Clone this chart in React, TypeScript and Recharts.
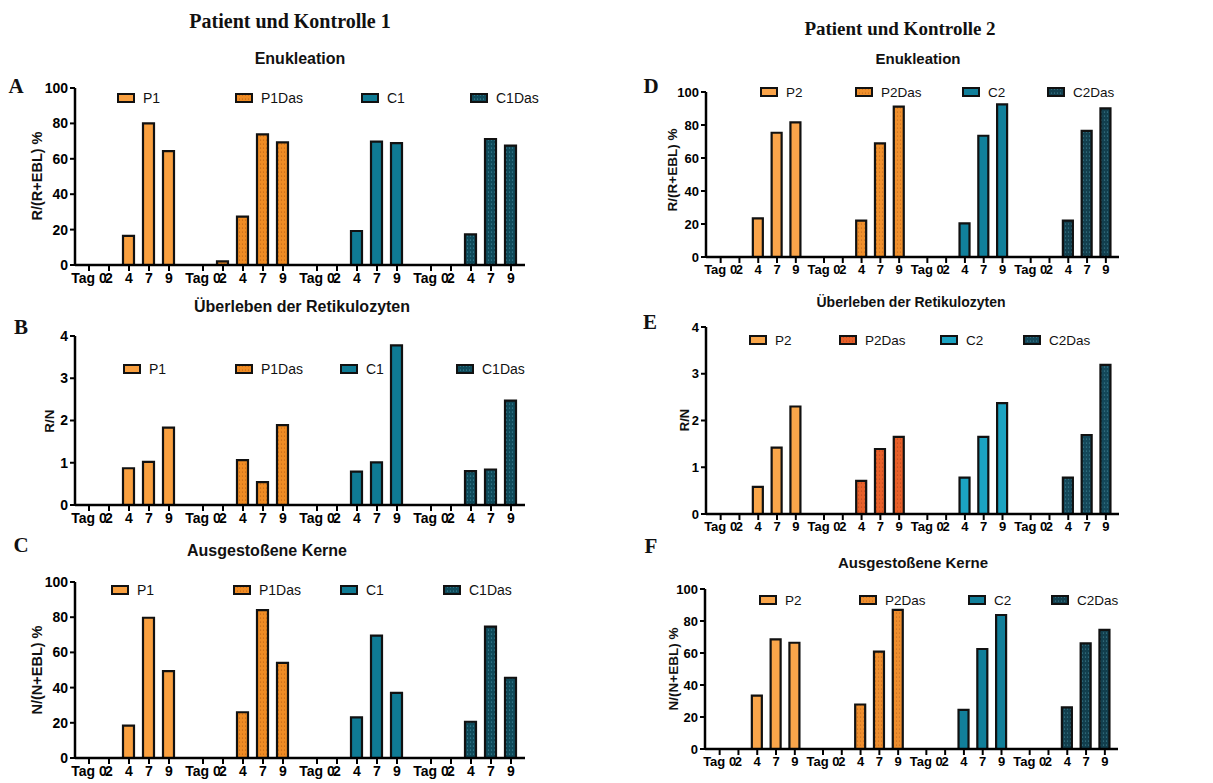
import React from 'react';
import { BarChart, Bar, XAxis, YAxis, Cell } from 'recharts';

// ---------- data ----------
const DAYS = ['Tag 0', '2', '4', '7', '9'];
const SERIES_1 = ['P1', 'P1Das', 'C1', 'C1Das'];
const SERIES_2 = ['P2', 'P2Das', 'C2', 'C2Das'];
const PCT_TICKS = [0, 20, 40, 60, 80, 100];
const RN_TICKS = [0, 1, 2, 3, 4];

// A – Enukleation (Patient/Kontrolle 1)
const A_P1 = [0, 0, 16.5, 80, 64.3];
const A_P1Das = [0, 2, 27.3, 73.8, 69.3];
const A_C1 = [0, 0, 19.2, 69.7, 68.8];
const A_C1Das = [0, 0, 17.3, 71.2, 67.4];
// B – Überleben der Retikulozyten
const B_P1 = [0, 0, 0.87, 1.02, 1.83];
const B_P1Das = [0, 0, 1.06, 0.54, 1.89];
const B_C1 = [0, 0, 0.79, 1.01, 3.78];
const B_C1Das = [0, 0, 0.8, 0.84, 2.47];
// C – Ausgestoßene Kerne
const C_P1 = [0, 0, 18.4, 79.7, 49.4];
const C_P1Das = [0, 0, 26, 84, 54];
const C_C1 = [0, 0, 23.1, 69.5, 37];
const C_C1Das = [0, 0, 20.6, 74.6, 45.6];
// D – Enukleation (Patient/Kontrolle 2)
const D_P2 = [0, 0, 23.4, 75.3, 81.6];
const D_P2Das = [0, 0, 22, 68.9, 91.1];
const D_C2 = [0, 0, 20.4, 73.5, 92.5];
const D_C2Das = [0, 0, 22, 76.4, 90.1];
// E – Überleben der Retikulozyten
const E_P2 = [0, 0, 0.58, 1.42, 2.3];
const E_P2Das = [0, 0, 0.71, 1.39, 1.65];
const E_C2 = [0, 0, 0.78, 1.65, 2.37];
const E_C2Das = [0, 0, 0.78, 1.69, 3.19];
// F – Ausgestoßene Kerne
const F_P2 = [0, 0, 33.3, 68.5, 66.4];
const F_P2Das = [0, 0, 27.8, 60.8, 86.9];
const F_C2 = [0, 0, 24.4, 62.5, 83.75];
const F_C2Das = [0, 0, 26, 66, 74.4];

// ---------- styling ----------
const SANS = '"Liberation Sans", Arial, sans-serif';
const NARROW = '"Liberation Sans Narrow", "Liberation Sans", Arial, sans-serif';
const SERIF = '"Liberation Serif", "Times New Roman", serif';

type Row = { x: number; v: number; s: number; label: string };

function buildRows(values: number[][], stride: number): Row[] {
  const rows: Row[] = [];
  values.forEach((vals, g) =>
    vals.forEach((v, i) => rows.push({ x: +(g * stride + i).toFixed(3), v, s: g, label: DAYS[i] }))
  );
  return rows;
}

type PanelCfg = {
  id: string;
  series: string[];
  values: number[][];
  stride: number;
  xDomain: [number, number];
  yDomain: [number, number];
  yTicks: number[];
  plotLeft: number;
  plotRight: number;
  plotTop: number;
  plotBottom: number;
  colors: string[];
  dots: string[];
  barSize: number;
  legendY: number;
  legendX: number[];
  legendFont: number;
  tickFont: number;
};

const Panel: React.FC<{ cfg: PanelCfg }> = ({ cfg }) => {
  const rows = buildRows(cfg.values, cfg.stride);
  const ticks = rows.map((r) => r.x);
  const labelOf: Record<string, string> = {};
  rows.forEach((r) => (labelOf[String(r.x)] = r.label));
  const chartLeft = cfg.plotLeft - 50;
  const chartTop = cfg.plotTop - 10;
  const width = cfg.plotRight - cfg.plotLeft + 60;
  const height = cfg.plotBottom - cfg.plotTop + 10 + 30;
  const fillOf = (g: number) => (g % 2 === 1 ? `url(#dots-${cfg.id}-${g})` : cfg.colors[g]);
  return (
    <>
      <div style={{ position: 'absolute', left: chartLeft, top: chartTop }}>
        <BarChart
          width={width}
          height={height}
          data={rows}
          margin={{ left: 10, right: 10, top: 10, bottom: 0 }}
        >
          <defs>
            {cfg.colors.map((c, g) =>
              g % 2 === 1 ? (
                <pattern
                  key={g}
                  id={`dots-${cfg.id}-${g}`}
                  width={3}
                  height={4}
                  patternUnits="userSpaceOnUse"
                >
                  <rect width={3} height={4} fill={c} />
                  <circle cx={1.5} cy={2} r={0.6} fill={cfg.dots[g]} />
                </pattern>
              ) : null
            )}
          </defs>
          <XAxis
            dataKey="x"
            type="number"
            domain={cfg.xDomain}
            allowDataOverflow
            ticks={ticks}
            interval={0}
            tickFormatter={(v: number) => labelOf[String(v)] ?? ''}
            axisLine={{ stroke: '#000', strokeWidth: 2.5 }}
            tickLine={{ stroke: '#000', strokeWidth: 2 }}
            tickSize={6}
            tick={{ fill: '#000', fontSize: cfg.tickFont, fontWeight: 700, fontFamily: NARROW }}
            height={30}
          />
          <YAxis
            type="number"
            domain={cfg.yDomain}
            ticks={cfg.yTicks}
            interval={0}
            width={40}
            axisLine={{ stroke: '#000', strokeWidth: 2.5 }}
            tickLine={{ stroke: '#000', strokeWidth: 2 }}
            tickSize={5}
            tick={{ fill: '#000', fontSize: cfg.tickFont, fontWeight: 700, fontFamily: NARROW }}
          />
          <Bar
            dataKey="v"
            barSize={cfg.barSize}
            stroke="#111"
            strokeWidth={2.2}
            isAnimationActive={false}
          >
            {rows.map((r, i) => (
              <Cell key={i} fill={fillOf(r.s)} />
            ))}
          </Bar>
        </BarChart>
      </div>
      {cfg.series.map((name, g) => (
        <div
          key={name}
          style={{
            position: 'absolute',
            left: cfg.legendX[g],
            top: cfg.legendY - 9,
            height: 18,
            display: 'flex',
            alignItems: 'center',
            fontFamily: SANS,
            fontSize: cfg.legendFont,
            color: '#111',
            whiteSpace: 'nowrap',
          }}
        >
          <svg width={18} height={10} style={{ marginRight: 8 }}>
            <rect x={1} y={1} width={16} height={8} fill={fillOf(g)} stroke="#111" strokeWidth={2} />
          </svg>
          {name}
        </div>
      ))}
    </>
  );
};

const abs = (left: number, top: number, extra: React.CSSProperties = {}): React.CSSProperties => ({
  position: 'absolute',
  left,
  top,
  whiteSpace: 'nowrap',
  ...extra,
});

const Centered: React.FC<{ x: number; y: number; style: React.CSSProperties; children: React.ReactNode }> = ({
  x,
  y,
  style,
  children,
}) => (
  <div style={abs(x, y, { transform: 'translate(-50%, -50%)', ...style })}>{children}</div>
);

const YLabel: React.FC<{ x: number; y: number; text: string; size: number }> = ({ x, y, text, size }) => (
  <div
    style={abs(x, y, {
      transform: 'translate(-50%, -50%) rotate(-90deg)',
      fontFamily: SANS,
      fontWeight: 700,
      fontSize: size,
      color: '#111',
    })}
  >
    {text}
  </div>
);

const LEFT_COLORS = ['#F9A040', '#F08C24', '#0F7B94', '#0F4A5A'];
const LEFT_DOTS = ['', '#B45A10', '', '#4C9AAD'];

const panels: PanelCfg[] = [
  {
    id: 'A', series: SERIES_1, values: [A_P1, A_P1Das, A_C1, A_C1Das], stride: 5.7,
    xDomain: [-0.7, 21.8], yDomain: [0, 100], yTicks: PCT_TICKS,
    plotLeft: 75, plotRight: 525, plotTop: 88, plotBottom: 265,
    colors: LEFT_COLORS, dots: LEFT_DOTS, barSize: 11,
    legendY: 98, legendX: [117, 235, 361, 470], legendFont: 14, tickFont: 14,
  },
  {
    id: 'B', series: SERIES_1, values: [B_P1, B_P1Das, B_C1, B_C1Das], stride: 5.7,
    xDomain: [-0.7, 21.8], yDomain: [0, 4], yTicks: RN_TICKS,
    plotLeft: 75, plotRight: 525, plotTop: 336, plotBottom: 505,
    colors: LEFT_COLORS, dots: LEFT_DOTS, barSize: 11,
    legendY: 369, legendX: [123, 235, 340, 456], legendFont: 14, tickFont: 14,
  },
  {
    id: 'C', series: SERIES_1, values: [C_P1, C_P1Das, C_C1, C_C1Das], stride: 5.7,
    xDomain: [-0.7, 21.8], yDomain: [0, 100], yTicks: PCT_TICKS,
    plotLeft: 75, plotRight: 525, plotTop: 582, plotBottom: 758,
    colors: LEFT_COLORS, dots: LEFT_DOTS, barSize: 11,
    legendY: 590, legendX: [111, 233, 340, 443], legendFont: 14, tickFont: 14,
  },
  {
    id: 'D', series: SERIES_2, values: [D_P2, D_P2Das, D_C2, D_C2Das], stride: 5.5,
    xDomain: [-0.78, 21.2], yDomain: [0, 100], yTicks: PCT_TICKS,
    plotLeft: 706, plotRight: 1119, plotTop: 92, plotBottom: 257,
    colors: ['#FAA44A', '#F0902C', '#11809B', '#123F4E'], dots: ['', '#B8601A', '', '#4A8FA0'], barSize: 10,
    legendY: 92, legendX: [760, 855, 962, 1047], legendFont: 13.5, tickFont: 13,
  },
  {
    id: 'E', series: SERIES_2, values: [E_P2, E_P2Das, E_C2, E_C2Das], stride: 5.5,
    xDomain: [-0.78, 21.2], yDomain: [0, 4], yTicks: RN_TICKS,
    plotLeft: 706, plotRight: 1119, plotTop: 327, plotBottom: 514,
    colors: ['#F9A64A', '#E8602A', '#1BA3C2', '#14485A'], dots: ['', '#A8401A', '', '#4A8FA0'], barSize: 10,
    legendY: 340, legendX: [749, 839, 940, 1023], legendFont: 13.5, tickFont: 13,
  },
  {
    id: 'F', series: SERIES_2, values: [F_P2, F_P2Das, F_C2, F_C2Das], stride: 5.5,
    xDomain: [-0.78, 21.2], yDomain: [0, 100], yTicks: PCT_TICKS,
    plotLeft: 705, plotRight: 1118, plotTop: 589, plotBottom: 749,
    colors: ['#F9A54A', '#EE8E2E', '#117F9A', '#123F4E'], dots: ['', '#B8601A', '', '#4A8FA0'], barSize: 10,
    legendY: 600, legendX: [759, 859, 968, 1051], legendFont: 13.5, tickFont: 13,
  },
];

const titleStyle: React.CSSProperties = { fontFamily: SERIF, fontWeight: 700, color: '#111' };
const subStyle: React.CSSProperties = { fontFamily: SANS, fontWeight: 700, color: '#111' };

export default function App() {
  return (
    <div
      style={{
        position: 'fixed',
        left: 0,
        top: 0,
        width: 1213,
        height: 783,
        background: '#fff',
        overflow: 'hidden',
      }}
    >
      <Centered x={290} y={21} style={{ ...titleStyle, fontSize: 20 }}>Patient und Kontrolle 1</Centered>
      <Centered x={900} y={29} style={{ ...titleStyle, fontSize: 19 }}>Patient und Kontrolle 2</Centered>

      <Centered x={300} y={59} style={{ ...subStyle, fontSize: 16 }}>Enukleation</Centered>
      <Centered x={918} y={58} style={{ ...subStyle, fontSize: 15 }}>Enukleation</Centered>
      <Centered x={302} y={307} style={{ ...subStyle, fontSize: 16 }}>Überleben der Retikulozyten</Centered>
      <Centered x={911} y={302} style={{ ...subStyle, fontSize: 14 }}>Überleben der Retikulozyten</Centered>
      <Centered x={267} y={551} style={{ ...subStyle, fontSize: 16 }}>Ausgestoßene Kerne</Centered>
      <Centered x={913} y={562} style={{ ...subStyle, fontSize: 15 }}>Ausgestoßene Kerne</Centered>

      <Centered x={16} y={86} style={{ ...titleStyle, fontSize: 21 }}>A</Centered>
      <Centered x={21} y={327} style={{ ...titleStyle, fontSize: 21 }}>B</Centered>
      <Centered x={21} y={545} style={{ ...titleStyle, fontSize: 21 }}>C</Centered>
      <Centered x={651} y={86} style={{ ...titleStyle, fontSize: 21 }}>D</Centered>
      <Centered x={650} y={322} style={{ ...titleStyle, fontSize: 21 }}>E</Centered>
      <Centered x={651} y={546} style={{ ...titleStyle, fontSize: 21 }}>F</Centered>

      <YLabel x={37} y={176} text="R/(R+EBL) %" size={14.5} />
      <YLabel x={49} y={421} text="R/N" size={13.5} />
      <YLabel x={37} y={670} text="N/(N+EBL) %" size={14.5} />
      <YLabel x={672} y={170} text="R/(R+EBL) %" size={13.5} />
      <YLabel x={684} y={420} text="R/N" size={13} />
      <YLabel x={673} y={669} text="N/(N+EBL) %" size={13.5} />

      {panels.map((p) => (
        <Panel key={p.id} cfg={p} />
      ))}
    </div>
  );
}
